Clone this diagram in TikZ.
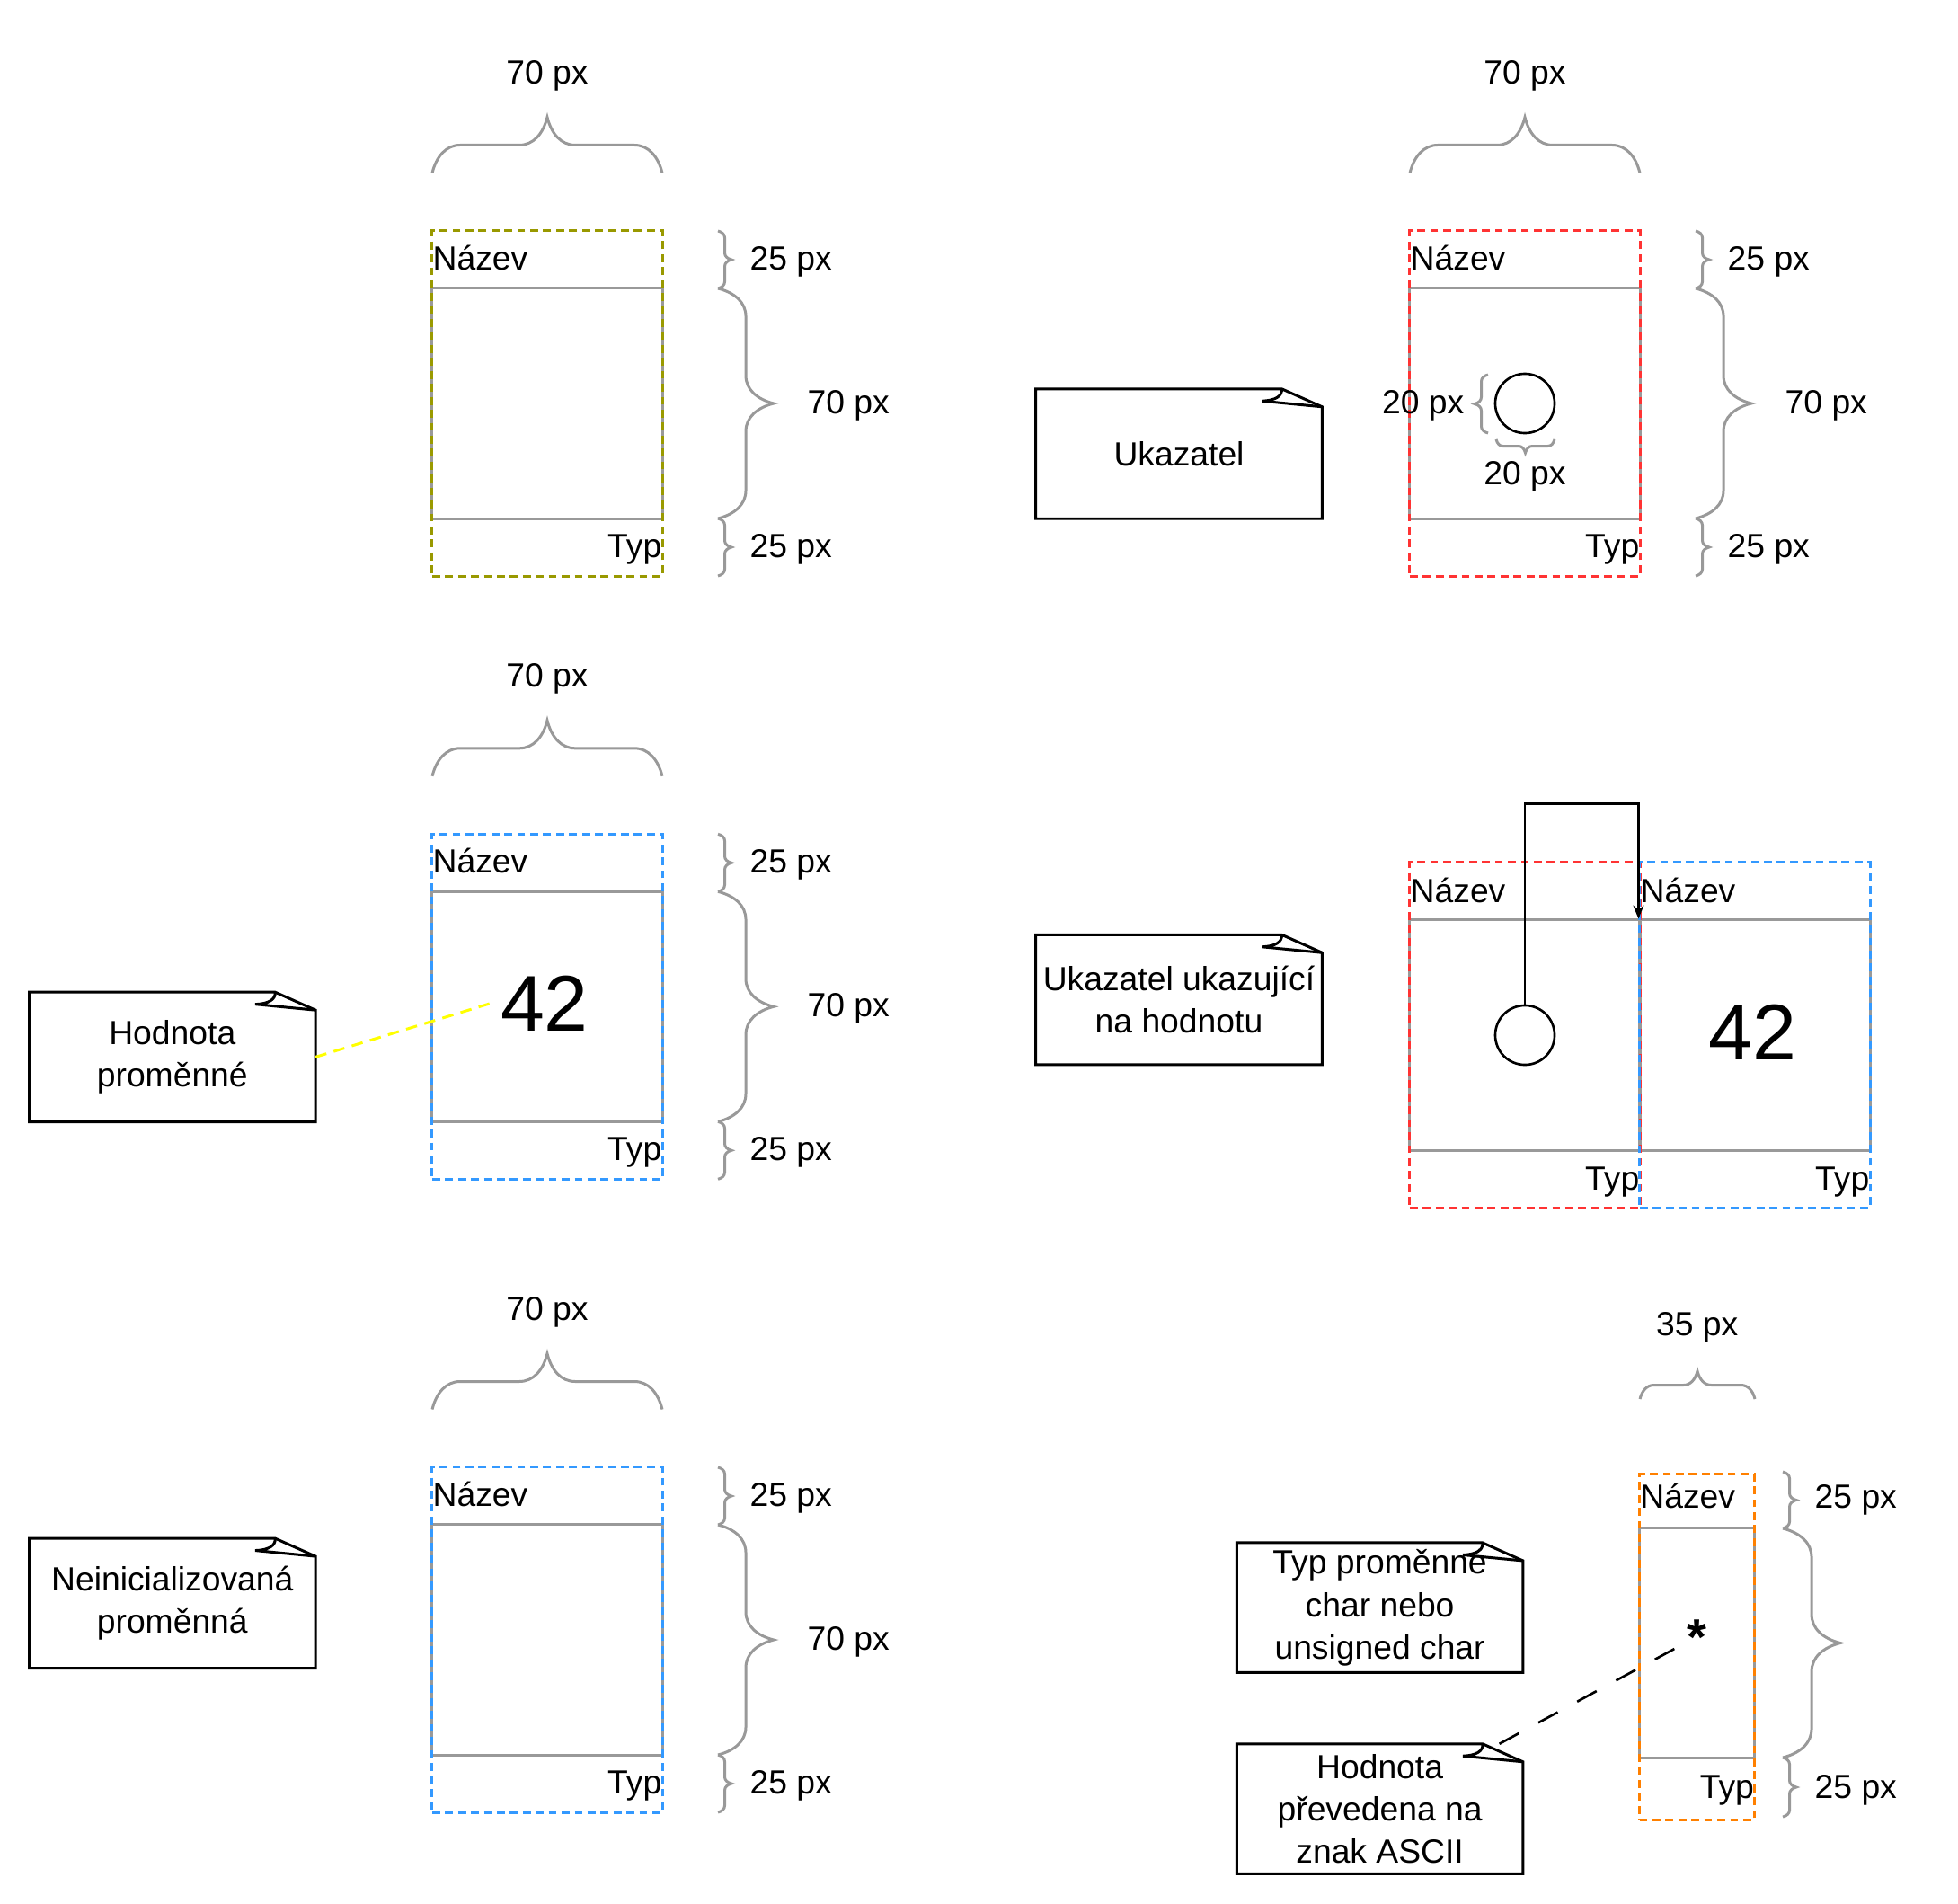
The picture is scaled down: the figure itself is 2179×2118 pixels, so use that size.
\documentclass[tikz,border=0pt]{standalone}
\usepackage{fontspec}
\setmainfont{Liberation Sans}
\usetikzlibrary{arrows.meta, calc, decorations.pathreplacing}
\definecolor{olivedash}{HTML}{999900}
\definecolor{reddash}{HTML}{FF3333}
\definecolor{bluedash}{HTML}{3399FF}
\definecolor{orangedash}{HTML}{FF8000}
\definecolor{cellline}{HTML}{999999}
\definecolor{hintline}{HTML}{FFFF00}
\newcommand{\pxfont}{\fontsize{10.6}{13.4}\selectfont}
\tikzset{
  slot/.style    = {rectangle, line width=0.85pt, dash pattern=on 2.5pt off 1.6pt,
                    minimum width=2.56cm, minimum height=3.84cm, inner sep=0pt},
  cell/.style    = {rectangle, draw=cellline, line width=0.85pt,
                    minimum width=2.56cm, minimum height=2.56cm, inner sep=0pt},
  lbl/.style     = {font=\pxfont, inner sep=0pt},
  val/.style     = {font=\fontsize{25}{30}\selectfont},
  ptrdot/.style  = {circle, draw, line width=0.75pt, minimum size=0.66cm, inner sep=0pt},
  note/.style    = {rectangle, align=center, font=\pxfont, minimum width=3.17cm,
                    minimum height=1.43cm, inner sep=1pt},
  noteline/.style= {line width=0.85pt, line join=miter},
  dimbrace/.style= {draw=cellline, line width=0.85pt, decorate,
                    decoration={brace, amplitude=#1, transform={yscale=2}}},
  ptr/.style     = {-{Stealth[length=4.2pt, width=3.4pt]}, line width=0.75pt},
  valhint/.style = {draw=hintline, line width=0.85pt, dash pattern=on 3.6pt off 2.4pt},
  charhint/.style= {line width=0.75pt, dash pattern=on 7pt off 7pt},
}
\begin{document}
\begin{tikzpicture}[x=0.01cm, y=-0.01cm]
\fill[white] (0,0) rectangle (2179,2118);
\foreach \pn/\dx/\dy/\col in {A/0/0/olivedash, B/1088/0/reddash, C/0/671.3/bluedash, E/0/1376/bluedash}{
  \begin{scope}[shift={(\dx,\dy)}]
    \node[cell] (cell\pn) at (609,449) {};
    \node[slot, draw=\col] (slot\pn) at (609,449) {};
    \draw[dimbrace=0.31cm] (481,192.5) -- (737,192.5);
    \draw[dimbrace=0.075cm] (799,257) -- (799,321);
    \draw[dimbrace=0.31cm] (799,321) -- (799,577);
    \draw[dimbrace=0.075cm] (799,577) -- (799,641);
    \node[lbl, anchor=base] (top\pn) at (609,93.5) {70 px};
    \node[lbl, anchor=base west] (hi\pn) at (834,300.6) {25 px};
    \node[lbl, anchor=base west] (mid\pn) at (898,460.6) {70 px};
    \node[lbl, anchor=base west] (lo\pn) at (834,620) {25 px};
    \node[lbl, anchor=base west] (name\pn) at (481,300.6) {Název};
    \node[lbl, anchor=base east] (type\pn) at (737,620) {Typ};
  \end{scope}
}
\node[ptrdot] (dotB) at (1697,449) {};
\draw[dimbrace=0.075cm] (1656,482) -- (1656,417);
\draw[dimbrace=0.075cm] (1730,489) -- (1665,489);
\node[lbl, anchor=base east] (dimyB) at (1630,460) {20 px};
\node[lbl, anchor=base] (dimxB) at (1697,539) {20 px};
\node[val] (valC) at (606,1117) {42};
\node[cell] (cellD1) at (1697,1152) {};
\node[cell] (cellD2) at (1953,1152) {};
\node[slot, draw=reddash] (slotD1) at (1697,1152) {};
\node[slot, draw=bluedash] (slotD2) at (1953,1152) {};
\node[lbl, anchor=base west] (nameD1) at (1569,1004.6) {Název};
\node[lbl, anchor=base west] (nameD2) at (1825,1004.6) {Název};
\node[lbl, anchor=base east] (typeD1) at (1825,1324) {Typ};
\node[lbl, anchor=base east] (typeD2) at (2081,1324) {Typ};
\node[ptrdot] (dotD) at (1697,1152) {};
\node[val] (valD) at (1950,1149) {42};
\draw[ptr] (dotD.north) -- ++(0,-223) -| (cellD2.north west);
\node[cell, minimum width=1.28cm, minimum height=2.55cm] (cellF) at (1888.6,1828.5) {};
\node[slot, draw=orangedash, minimum width=1.28cm] (slotF) at (1888.6,1833) {};
\draw[dimbrace=0.155cm] (1825,1557) -- (1953,1557);
\draw[dimbrace=0.075cm] (1984,1638) -- (1984,1701);
\draw[dimbrace=0.32cm] (1984,1701) -- (1984,1956);
\draw[dimbrace=0.075cm] (1984,1956) -- (1984,2022);
\node[lbl, anchor=base] (topF) at (1888.6,1486) {35 px};
\node[lbl, anchor=base west] (hiF) at (2019,1678.7) {25 px};
\node[lbl, anchor=base west] (loF) at (2019,2001) {25 px};
\node[lbl, anchor=base west] (nameF) at (1824.7,1678.7) {Název};
\node[lbl, anchor=base east] (typeF) at (1952.6,2001) {Typ};
\node[font=\bfseries\fontsize{16}{19}\selectfont, inner sep=3pt, anchor=base] (starF) at (1888,1841) {*};
\node[note] (noteB) at (1312,505) {Ukazatel};
\node[note] (noteC) at (191.8,1176.4) {Hodnota\\proměnné};
\node[note] (noteD) at (1312,1112.5) {Ukazatel ukazující\\na hodnotu};
\node[note] (noteE) at (191.8,1784.3) {Neinicializovaná\\proměnná};
\node[note] (noteF) at (1535.6,1789.2) {Typ proměnné\\char nebo\\unsigned char};
\node[note] (noteG) at (1535.6,2013) {Hodnota\\převedena na\\znak ASCII};
\foreach \m in {noteB,noteC,noteD,noteE,noteF,noteG}{
  \draw[noteline] (\m.north west) -- ($(\m.north east)+(-45,0)$) -- ($(\m.north east)+(0,20)$) |- (\m.south west) -- cycle;
  \draw[noteline] ($(\m.north east)+(-45,0)$) .. controls ($(\m.north east)+(-44,8)$) and ($(\m.north east)+(-52,13)$) .. ($(\m.north east)+(-67,13.5)$) -- ($(\m.north east)+(0,20)$);
}
\draw[valhint] (noteC.east) -- (valC.west);
\draw[charhint] (noteG) -- (starF);
\end{tikzpicture}
\end{document}
